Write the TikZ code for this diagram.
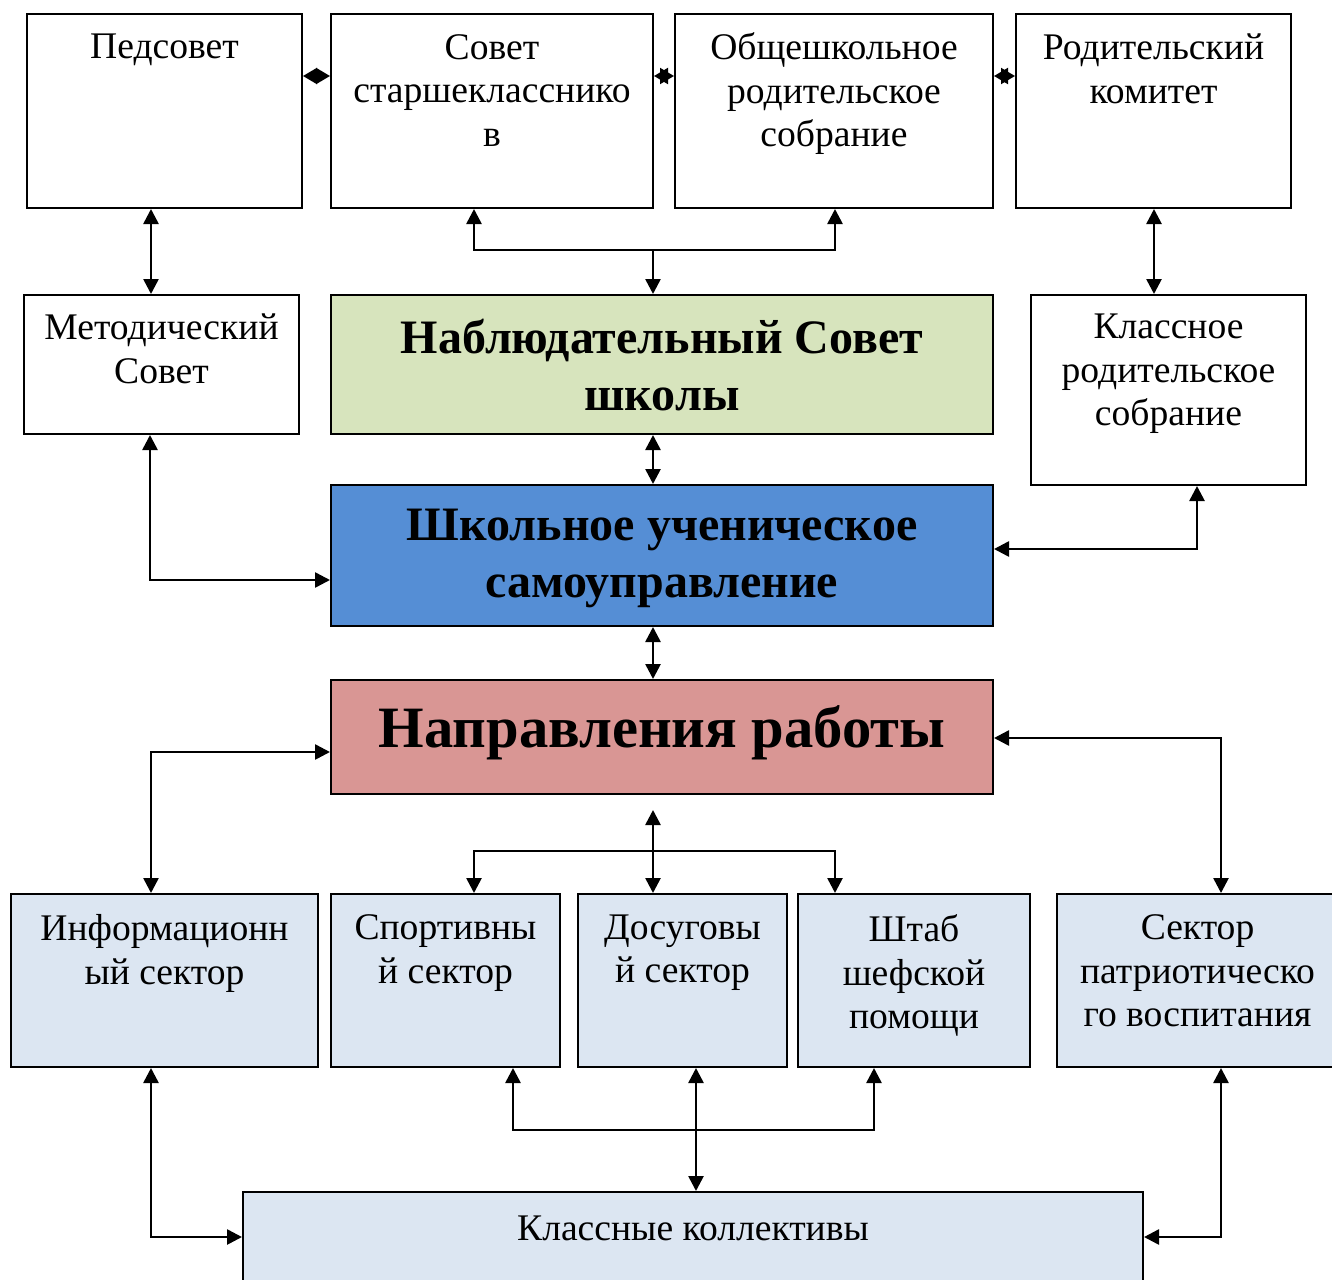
\documentclass[tikz,border=0pt]{standalone}
\usepackage{fontspec}
\setmainfont{Liberation Serif}
\usetikzlibrary{arrows.meta,fit}
\definecolor{cgreen}{HTML}{D7E4BD}
\definecolor{cblue}{HTML}{558ED5}
\definecolor{cred}{HTML}{D99694}
\definecolor{clight}{HTML}{DCE6F2}
\begin{document}
\begin{tikzpicture}[x=0.5pt,y=-0.5pt,
  box/.style={draw=black, line width=1pt, inner sep=0pt},
  lbl/.style={anchor=north, align=center, inner sep=0pt, font=\fontsize{18.8}{21.8}\selectfont, execute at begin node=\strut},
  big/.style={align=center, inner sep=0pt, font=\bfseries\fontsize{24}{28.3}\selectfont},
  huge/.style={align=center, inner sep=0pt, font=\bfseries\fontsize{29.3}{34}\selectfont},
  tip/.tip={Triangle[length=7.5pt,width=7.5pt]},
  conn/.style={line width=1.3pt, tip-tip},
  oneway/.style={line width=1.3pt, -tip},
  small/.style={line width=1pt, {Triangle[length=7pt,width=8pt]}-{Triangle[length=7pt,width=8pt]}}]
\clip (0,0) rectangle (1332,1279);
% boxes
\node[box, fit={(27,14) (302,208)}] (ped) {};
\node[box, fit={(331,14) (653,208)}] (sov) {};
\node[box, fit={(675,14) (993,208)}] (obs) {};
\node[box, fit={(1016,14) (1291,208)}] (rod) {};
\node[box, fit={(24,295) (299,434)}] (met) {};
\node[box, fill=cgreen, fit={(331,295) (993,434)}] (nab) {};
\node[box, fit={(1031,295) (1306,485)}] (kl) {};
\node[box, fill=cblue, fit={(331,485) (993,626)}] (shk) {};
\node[box, fill=cred, fit={(331,680) (993,794)}] (nap) {};
\node[box, fill=clight, fit={(11,894) (318,1067)}] (inf) {};
\node[box, fill=clight, fit={(331,894) (560,1067)}] (spo) {};
\node[box, fill=clight, fit={(578,894) (787,1067)}] (dos) {};
\node[box, fill=clight, fit={(798,894) (1030,1067)}] (sht) {};
\node[box, fill=clight, fit={(1057,894) (1338,1067)}] (pat) {};
\node[box, fill=clight, fit={(243,1192) (1143,1295)}] (kol) {};
% texts
\node[lbl] (tped) at ([yshift=-7.5pt]ped.north) {Педсовет};
\node[lbl] (tsov) at ([yshift=-10.4pt]sov.north) {Совет\\старшекласснико\\в};
\node[lbl] (tobs) at ([yshift=-9.6pt]obs.north) {Общешкольное\\родительское\\собрание};
\node[lbl] (trod) at ([yshift=-10.4pt]rod.north) {Родительский\\комитет};
\node[lbl] (tmet) at ([yshift=-9.7pt]met.north) {Методический\\Совет};
\node[lbl] (tkl) at ([yshift=-9.7pt]kl.north) {Классное\\родительское\\собрание};
\node[big] (tnab) at ([yshift=-0.3pt]nab.center) {Наблюдательный Совет\\школы};
\node[big] (tshk) at ([yshift=-1.5pt]shk.center) {Школьное ученическое\\самоуправление};
\node[huge] (tnap) at ([yshift=2pt]nap.center) {Направления работы};
\node[lbl] (tinf) at ([yshift=-10.6pt]inf.north) {Информационн\\ый сектор};
\node[lbl] (tspo) at ([yshift=-10.6pt]spo.north) {Спортивны\\й сектор};
\node[lbl] (tdos) at ([yshift=-10.6pt]dos.north) {Досуговы\\й сектор};
\node[lbl] (tsht) at ([yshift=-10.6pt]sht.north) {Штаб\\шефской\\помощи};
\node[lbl] (tpat) at ([yshift=-10.6pt]pat.north) {Сектор\\патриотическо\\го воспитания};
\node[lbl] (tkol) at ([yshift=-9.5pt]kol.north) {Классные коллективы};
% helper coordinates
\coordinate (xA) at (151,0);
\coordinate (xA2) at (150,0);
\coordinate (xB) at (474,0);
\coordinate (xC) at (835,0);
\coordinate (xM) at (653,0);
\coordinate (xD) at (1154,0);
\coordinate (xE) at (1197,0);
\coordinate (xF) at (1221,0);
\coordinate (xG) at (513,0);
\coordinate (xH) at (874,0);
\coordinate (yT) at (0,76);
\coordinate (y2) at (0,580);
\coordinate (y3) at (0,549);
\coordinate (y4) at (0,752);
\coordinate (y5) at (0,738);
\coordinate (y8) at (0,1237);
\coordinate (h1) at (653,250);
\coordinate (m1) at (653,810);
\coordinate (h2) at (653,851);
\coordinate (h3) at (696,1130);
% top row small connectors
\draw[small] (ped.east |- yT) -- (sov.west |- yT);
\draw[small] (sov.east |- yT) -- (obs.west |- yT);
\draw[small] (obs.east |- yT) -- (rod.west |- yT);
% vertical connectors
\draw[conn] (ped.south -| xA) -- (met.north -| xA);
\draw[conn] (rod.south -| xD) -- (kl.north -| xD);
\draw[conn] (sov.south -| xB) |- (h1) -| (obs.south -| xC);
\draw[oneway] (h1) -- (nab.north -| h1);
\draw[conn] (nab.south -| xM) -- (shk.north -| xM);
\draw[conn] (met.south -| xA2) |- (shk.west |- y2);
\draw[conn] (kl.south -| xE) |- (shk.east |- y3);
\draw[conn] (shk.south -| xM) -- (nap.north -| xM);
\draw[conn] (nap.west |- y4) -| (inf.north -| xA);
\draw[conn] (nap.east |- y5) -| (pat.north -| xF);
\draw[conn] (m1) -- (dos.north -| m1);
\draw[conn] (spo.north -| xB) |- (h2) -| (sht.north -| xC);
\draw[conn] (spo.south -| xG) |- (h3) -| (sht.south -| xH);
\draw[conn] (dos.south -| h3) -- (kol.north -| h3);
\draw[conn] (inf.south -| xA) |- (kol.west |- y8);
\draw[conn] (pat.south -| xF) |- (kol.east |- y8);
\end{tikzpicture}
\end{document}
